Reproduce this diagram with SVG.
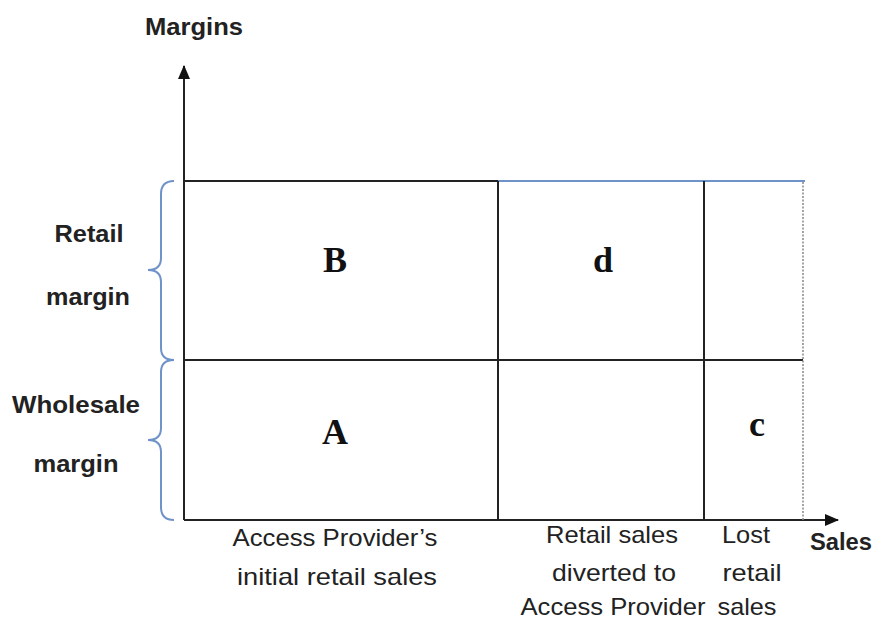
<svg xmlns="http://www.w3.org/2000/svg" width="875" height="621" viewBox="0 0 875 621">
<style>
.ln{stroke:#222;stroke-width:2;fill:none}
.bl{stroke:#6f93c8;stroke-width:2;fill:none}
.lab{font-family:"Liberation Sans",Arial,sans-serif;font-size:24px;fill:#222;text-anchor:middle}
.bold{font-weight:bold}
.big{font-family:"Liberation Serif","Times New Roman",serif;font-weight:bold;font-size:36px;fill:#111;text-anchor:middle}
</style>
<defs>
<marker id="ah" markerWidth="14" markerHeight="12" refX="13" refY="6" orient="auto" markerUnits="userSpaceOnUse"><path d="M0,0 L14,6 L0,12 Z" fill="#111"/></marker>
</defs>
<rect width="875" height="621" fill="#fff"/>
<g id="connectors">
<line class="ln" x1="184" y1="520" x2="184" y2="66" marker-end="url(#ah)"/>
<line class="ln" x1="184" y1="520" x2="838" y2="520" marker-end="url(#ah)"/>
<line class="ln" x1="184" y1="181" x2="498" y2="181"/>
<line class="bl" x1="498" y1="181" x2="805" y2="181"/>
<line class="ln" x1="184" y1="360" x2="803" y2="360"/>
<line class="ln" x1="498" y1="181" x2="498" y2="520"/>
<line class="ln" x1="704" y1="181" x2="704" y2="520"/>
<line x1="803" y1="182" x2="803" y2="520" stroke="#888" stroke-width="1.5" stroke-dasharray="2,1.5"/>
<path class="bl" d="M174,181 Q161,181 161,194 L161,258 Q161,270 148,270 Q161,270 161,282 L161,348 Q161,360 174,360"/>
<path class="bl" d="M174,360 Q161,360 161,372 L161,428 Q161,440 148,440 Q161,440 161,452 L161,507 Q161,520 174,520"/>
</g>
<g id="axis-labels">
<text class="lab bold" x="194" y="35" textLength="98" lengthAdjust="spacingAndGlyphs">Margins</text>
<text class="lab bold" x="841" y="550" textLength="62" lengthAdjust="spacingAndGlyphs">Sales</text>
</g>
<g id="retail-margin"><text class="lab bold" x="89" y="242" textLength="69" lengthAdjust="spacingAndGlyphs">Retail</text><text class="lab bold" x="88" y="305" textLength="84" lengthAdjust="spacingAndGlyphs">margin</text></g>
<g id="wholesale-margin"><text class="lab bold" x="76" y="413" textLength="128" lengthAdjust="spacingAndGlyphs">Wholesale</text><text class="lab bold" x="76" y="472" textLength="85" lengthAdjust="spacingAndGlyphs">margin</text></g>
<g id="B"><text class="big" x="335" y="272">B</text></g>
<g id="d"><text class="big" x="603" y="272">d</text></g>
<g id="A"><text class="big" x="335" y="444">A</text></g>
<g id="c"><text class="big" x="757" y="436">c</text></g>
<g id="initial-sales"><text class="lab" x="335" y="546" textLength="205" lengthAdjust="spacingAndGlyphs">Access Provider’s</text><text class="lab" x="337" y="585" textLength="200" lengthAdjust="spacingAndGlyphs">initial retail sales</text></g>
<g id="diverted-sales"><text class="lab" x="612" y="543" textLength="132" lengthAdjust="spacingAndGlyphs">Retail sales</text><text class="lab" x="614" y="581" textLength="124" lengthAdjust="spacingAndGlyphs">diverted to</text><text class="lab" x="613" y="615" textLength="185" lengthAdjust="spacingAndGlyphs">Access Provider</text></g>
<g id="lost-sales"><text class="lab" x="746" y="543" textLength="48" lengthAdjust="spacingAndGlyphs">Lost</text><text class="lab" x="752" y="581" textLength="59" lengthAdjust="spacingAndGlyphs">retail</text><text class="lab" x="747" y="615" textLength="59" lengthAdjust="spacingAndGlyphs">sales</text></g>
</svg>
